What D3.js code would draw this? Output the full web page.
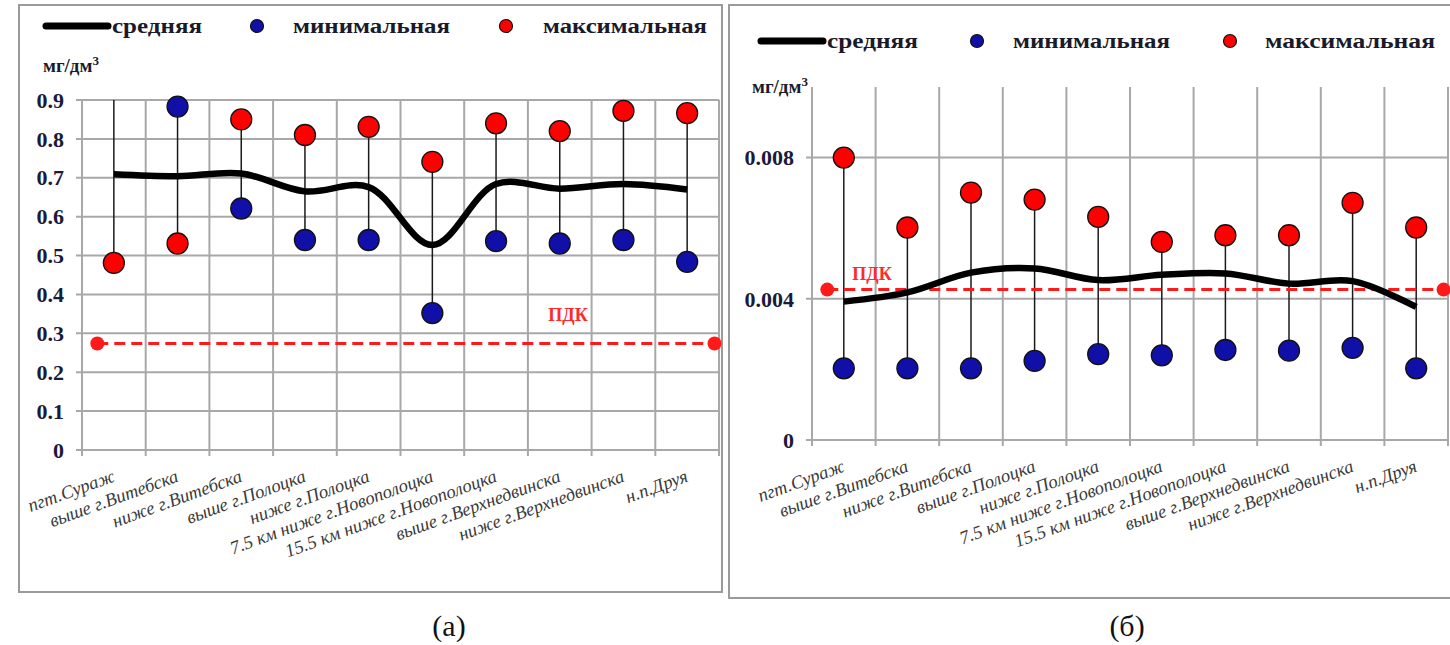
<!DOCTYPE html>
<head>
	<meta charset="utf-8">
	<title>Концентрации</title>
<style>
	body {
		margin:0;
		background-color: #ffffff;
	}
	svg { display:block; font-family: "Liberation Serif", "Times New Roman", Times, serif; }
	svg text { font-family: "Liberation Serif", "Times New Roman", Times, serif; }
	.grid line { stroke: #a8a8a8; stroke-width: 2px; }
	.ylab { font-weight: bold; font-size: 22px; fill: #1a1a3a; }
	.xlab { font-style: italic; font-size: 18.5px; fill: #3a3a3a; }
	.leg { font-weight: bold; font-size: 20px; fill: #1a1a2a; }
	.pdk { font-weight: bold; font-size: 18px; fill: #ff2a2a; }
	.caption { font-size: 30px; fill: #111; }
</style>
</head>
<script src="https://d3js.org/d3.v7.min.js"></script>

<body>
<script>
	// пункты наблюдений
	var categories = ["пгт.Сураж", "выше г.Витебска", "ниже г.Витебска", "выше г.Полоцка", "ниже г.Полоцка",
		"7.5 км ниже г.Новополоцка", "15.5 км ниже г.Новополоцка", "выше г.Верхнедвинска",
		"ниже г.Верхнедвинска", "н.п.Друя"];

	// (а)
	var meanA = [0.709, 0.704, 0.711, 0.665, 0.676, 0.527, 0.684, 0.672, 0.684, 0.670];
	var minA  = [0.95, 0.883, 0.621, 0.540, 0.540, 0.352, 0.537, 0.531, 0.540, 0.484];
	var maxA  = [0.481, 0.531, 0.850, 0.810, 0.831, 0.741, 0.840, 0.820, 0.872, 0.866];
	var pdkA = 0.274;
	var ticksA = [0, 0.1, 0.2, 0.3, 0.4, 0.5, 0.6, 0.7, 0.8, 0.9];

	// (б)
	var meanB = [0.00392, 0.00418, 0.00474, 0.00486, 0.00453, 0.00468, 0.00472, 0.00443, 0.00450, 0.00377];
	var minB  = [0.00203, 0.00203, 0.00203, 0.00224, 0.00243, 0.00240, 0.00255, 0.00253, 0.00261, 0.00203];
	var maxB  = [0.00800, 0.00602, 0.00701, 0.00681, 0.00632, 0.00561, 0.00580, 0.00580, 0.00672, 0.00602];
	var pdkB = 0.00426;
	var ticksB = [0, 0.004, 0.008];

	var pdkSpan = [0.24, 9.93]; // в долях категорий

	var W = 1450, H = 645;
	var svg = d3.select("body").append("svg").attr("width", W).attr("height", H);

	// рамки
	svg.append("rect").attr("x", 19).attr("y", 5).attr("width", 703).attr("height", 587)
		.attr("fill", "none").attr("stroke", "#9a9a9a").attr("stroke-width", 2);
	svg.append("rect").attr("x", 729).attr("y", 5).attr("width", 730).attr("height", 593)
		.attr("fill", "none").attr("stroke", "#9a9a9a").attr("stroke-width", 2);

	function panel(o) {
		var g = svg.append("g");
		var x = d3.scaleBand().domain(categories).range([o.x0, o.x1]);
		var bw = x.bandwidth();
		var cx = function(i) { return x(categories[i]) + bw / 2; };
		var y = d3.scaleLinear().domain(o.domain).range([o.yBot, o.yTop]);

		var clipId = "clip" + o.id;
		g.append("clipPath").attr("id", clipId).append("rect")
			.attr("x", o.x0).attr("y", o.yTop).attr("width", o.x1 - o.x0).attr("height", o.yBot - o.yTop);

		// сетка
		var grid = g.append("g").attr("class", "grid");
		grid.selectAll("line.h").data(o.ticks).enter().append("line")
			.attr("x1", o.x0 - 6).attr("x2", o.x1)
			.attr("y1", function(d) { return y(d); }).attr("y2", function(d) { return y(d); });
		var bounds = categories.map(function(c) { return x(c); }).concat([o.x1]);
		grid.selectAll("line.v").data(bounds).enter().append("line")
			.attr("x1", function(d) { return d; }).attr("x2", function(d) { return d; })
			.attr("y1", y(o.domain[1])).attr("y2", o.yBot + 6);

		// подписи оси Y
		g.selectAll("text.ylab").data(o.ticks).enter().append("text")
			.attr("class", "ylab")
			.attr("x", o.x0 - 18).attr("y", function(d) { return y(d); })
			.attr("dy", "0.35em").attr("text-anchor", "end")
			.text(function(d) { return d === 0 ? "0" : d3.format(o.fmt)(d); });

		// подписи категорий
		g.selectAll("text.xlab").data(categories).enter().append("text")
			.attr("class", "xlab")
			.attr("text-anchor", "end")
			.attr("transform", function(d, i) { return "translate(" + (cx(i) + 2) + "," + (o.yBot + 31) + ") rotate(-20)"; })
			.text(function(d) { return d; });

		// вертикальные линии мин-макс
		g.append("g").attr("clip-path", "url(#" + clipId + ")")
			.selectAll("line").data(categories).enter().append("line")
			.attr("x1", function(d, i) { return cx(i); }).attr("x2", function(d, i) { return cx(i); })
			.attr("y1", function(d, i) { return y(o.min[i]); })
			.attr("y2", function(d, i) { return y(o.max[i]); })
			.attr("stroke", "#1a1a1a").attr("stroke-width", 1.5);

		// ПДК
		var px0 = o.x0 + pdkSpan[0] * bw, px1 = o.x0 + pdkSpan[1] * bw;
		g.append("line").attr("x1", px0).attr("x2", px1).attr("y1", y(o.pdk)).attr("y2", y(o.pdk))
			.attr("stroke", "#ff1a1a").attr("stroke-width", 3).attr("stroke-dasharray", "11,6");
		g.selectAll("circle.pdk").data([px0, px1]).enter().append("circle")
			.attr("cx", function(d) { return d; }).attr("cy", y(o.pdk)).attr("r", 7).attr("fill", "#ff1a1a");
		g.append("text").attr("class", "pdk").attr("text-anchor", "middle")
			.attr("x", o.pdkLabel[0]).attr("y", y(o.pdk) + o.pdkLabel[1]).text("ПДК");

		// средняя
		var line = d3.line()
			.x(function(d, i) { return cx(i); })
			.y(function(d) { return y(d); })
			.curve(d3.curveCatmullRom.alpha(0.5));
		g.append("path").datum(o.mean).attr("d", line)
			.attr("fill", "none").attr("stroke", "#000").attr("stroke-width", 6.5);

		// маркеры (точки вне шкалы не рисуются)
		var minPts = o.min.map(function(v, i) { return { i: i, v: v }; })
			.filter(function(p) { return p.v <= o.domain[1]; });
		g.selectAll("circle.min").data(minPts).enter().append("circle")
			.attr("cx", function(p) { return cx(p.i); })
			.attr("cy", function(p) { return y(p.v); })
			.attr("r", 10.5).attr("fill", "#1010a8").attr("stroke", "#111").attr("stroke-width", 1.3);
		g.selectAll("circle.max").data(o.max).enter().append("circle")
			.attr("cx", function(d, i) { return cx(i); })
			.attr("cy", function(d) { return y(d); })
			.attr("r", 10.5).attr("fill", "#ff0000").attr("stroke", "#111").attr("stroke-width", 1.3);

		// единицы
		var u = g.append("text").attr("class", "leg").attr("x", o.unit[0]).attr("y", o.unit[1]).style("font-size", "19px");
		u.append("tspan").text("мг/дм");
		u.append("tspan").attr("dy", -7).style("font-size", "13px").text("3");

		// легенда
		var L = o.legend, ly = L.y;
		g.append("line").attr("x1", L.line[0]).attr("x2", L.line[1]).attr("y1", ly).attr("y2", ly)
			.attr("stroke", "#000").attr("stroke-width", 7).attr("stroke-linecap", "round");
		g.append("circle").attr("cx", L.blue).attr("cy", ly).attr("r", 6.5)
			.attr("fill", "#1010a8").attr("stroke", "#111").attr("stroke-width", 1.2);
		g.append("circle").attr("cx", L.red).attr("cy", ly).attr("r", 6.5)
			.attr("fill", "#ff0000").attr("stroke", "#111").attr("stroke-width", 1.2);
		var names = ["средняя", "минимальная", "максимальная"];
		g.selectAll("text.lg").data(names).enter().append("text")
			.attr("class", "leg")
			.attr("x", function(d, i) { return L.text[i][0]; })
			.attr("y", ly + 7)
			.attr("textLength", function(d, i) { return L.text[i][1]; })
			.attr("lengthAdjust", "spacingAndGlyphs")
			.text(function(d) { return d; });

		svg.append("text").attr("class", "caption").attr("text-anchor", "middle")
			.attr("x", o.caption[0]).attr("y", o.caption[1]).text(o.captionText);
	}

	panel({
		id: "a", x0: 82, x1: 719, yTop: 100, yBot: 450, domain: [0, 0.9],
		ticks: ticksA, fmt: ".1f", mean: meanA, min: minA, max: maxA, pdk: pdkA,
		pdkLabel: [568, -22], unit: [43, 72],
		legend: { y: 26, line: [46, 108], blue: 257, red: 506, text: [[112, 90], [293, 157], [543, 164]] },
		caption: [449, 636], captionText: "(а)"
	});

	panel({
		id: "b", x0: 812, x1: 1448, yTop: 87, yBot: 440, domain: [0, 0.01],
		ticks: ticksB, fmt: ".3f", mean: meanB, min: minB, max: maxB, pdk: pdkB,
		pdkLabel: [872, -10], unit: [752, 93],
		legend: { y: 41, line: [761, 823], blue: 977, red: 1230, text: [[827, 91], [1013, 157], [1265, 170]] },
		caption: [1127, 636], captionText: "(б)"
	});
</script>
</body>
